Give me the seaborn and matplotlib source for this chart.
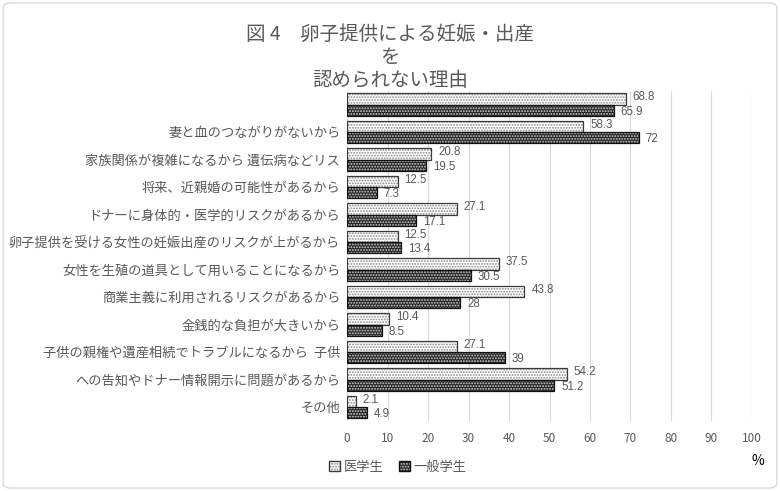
import pandas as pd
import matplotlib.pyplot as plt
import matplotlib.colors as mcolors
from matplotlib.patches import FancyBboxPatch, Patch
import seaborn as sns

# Reasons (the top group has no label in the source chart)
reasons = [
    "",
    "妻と血のつながりがないから",
    "家族関係が複雑になるから 遺伝病などリス",
    "将来、近親婚の可能性があるから",
    "ドナーに身体的・医学的リスクがあるから",
    "卵子提供を受ける女性の妊娠出産のリスクが上がるから",
    "女性を生殖の道具として用いることになるから",
    "商業主義に利用されるリスクがあるから",
    "金銭的な負担が大きいから",
    "子供の親権や遺産相続でトラブルになるから  子供",
    "への告知やドナー情報開示に問題があるから",
    "その他",
]
medical = [68.8, 58.3, 20.8, 12.5, 27.1, 12.5, 37.5, 43.8, 10.4, 27.1, 54.2, 2.1]
general = [65.9, 72, 19.5, 7.3, 17.1, 13.4, 30.5, 28, 8.5, 39, 51.2, 4.9]
series = ["医学生", "一般学生"]

df = pd.DataFrame({
    "reason": reasons * 2,
    "value": medical + general,
    "group": [series[0]] * len(reasons) + [series[1]] * len(reasons),
})

sns.set_style("white")
plt.rcParams["font.family"] = ["Noto Sans CJK JP", "DejaVu Sans"]
plt.rcParams["hatch.linewidth"] = 0.9
gray = "#595959"

fig = plt.figure(figsize=(7.8, 4.91), dpi=100)
ax = fig.add_axes([0.445, 0.143, 0.519, 0.672])

sns.barplot(data=df, y="reason", x="value", hue="group", orient="h",
            order=reasons, hue_order=series, width=0.82, ax=ax,
            palette=["white", "#2b2b2b"], legend=False)

# (face, edge, hatch colour, hatch)
styles = {0: ("white", "#3a3a3a", "#8a8a8a", "......"),
          1: ("#262626", "#111111", "#cfcfcf", "......")}
for i, cont in enumerate(ax.containers):
    face, edge, hcol, hatch = styles[i]
    for p in cont:
        p.set_facecolor(face)
        p.set_edgecolor(edge)
        p.set_linewidth(0.9)
        p.set_hatch(hatch)
        p._hatch_color = mcolors.to_rgba(hcol)
    anns = ax.bar_label(cont, labels=[f"{v:g}" for v in cont.datavalues],
                        padding=5, color=gray, fontsize=8.3,
                        family=["Liberation Sans", "DejaVu Sans"])
    dy = 1.2 if i == 0 else -1.2
    for a in anns:
        a.xyann = (a.xyann[0], dy)

ax.set_xlim(0, 100)
ax.set_xticks(range(0, 101, 10))
ax.xaxis.grid(True, color="#d9d9d9", linewidth=0.8)
ax.set_axisbelow(True)
for s in ax.spines.values():
    s.set_visible(False)
ax.tick_params(axis="x", colors=gray, labelsize=8.5, length=0, pad=8)
ax.tick_params(axis="y", colors=gray, labelsize=9.5, length=0, pad=5)
ax.set_xlabel("")
ax.set_ylabel("")

fig.text(0.5, 0.952, "図 4　卵子提供による妊娠・出産\nを\n認められない理由",
         ha="center", va="top", fontsize=14, color=gray, linespacing=1.15)

handles = []
for i, name in enumerate(series):
    face, edge, hcol, hatch = styles[i]
    h = Patch(facecolor=face, edgecolor=edge, hatch=hatch, label=name)
    h._hatch_color = mcolors.to_rgba(hcol)
    handles.append(h)
leg = fig.legend(handles=handles, loc="center", bbox_to_anchor=(0.51, 0.048),
                 ncol=2, frameon=False, fontsize=9.5, handlelength=0.8,
                 handleheight=0.8, handletextpad=0.3, columnspacing=1.2)
for t in leg.get_texts():
    t.set_color(gray)

fig.text(0.972, 0.062, "%", ha="center", va="center", fontsize=10, color="black")

fig.patches.append(FancyBboxPatch((0.004, 0.006), 0.992, 0.988,
                                  boxstyle="round,pad=0,rounding_size=0.01",
                                  transform=fig.transFigure, fill=False,
                                  edgecolor="#d9d9d9", linewidth=1))

fig.savefig("out.png", dpi=100)
